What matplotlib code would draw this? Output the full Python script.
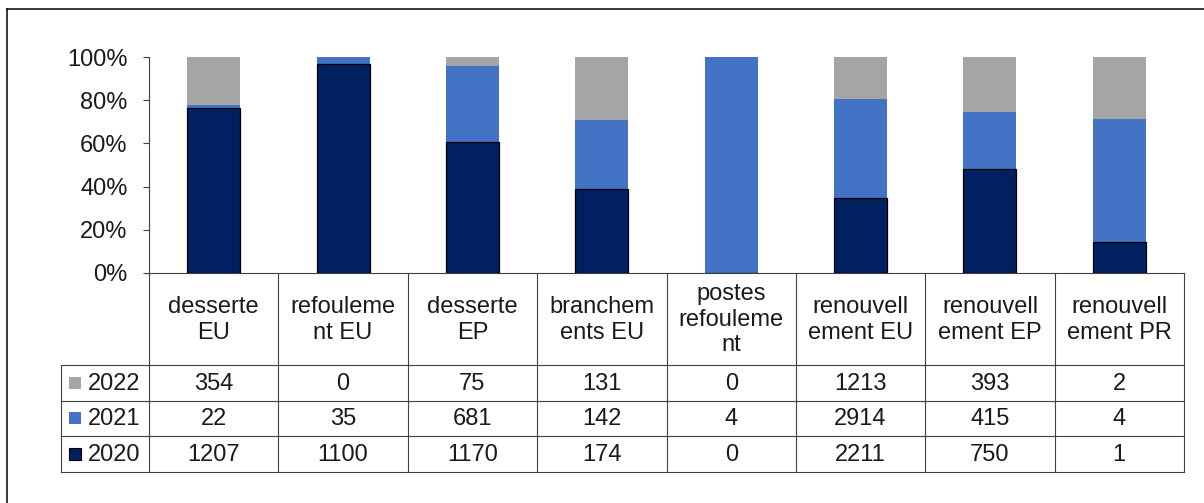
import matplotlib
matplotlib.use("Agg")
import matplotlib.pyplot as plt
from matplotlib.patches import Rectangle
import numpy as np

categories = ["desserte\nEU", "refouleme\nnt EU", "desserte\nEP", "branchem\nents EU",
              "postes\nrefouleme\nnt", "renouvell\nement EU", "renouvell\nement EP", "renouvell\nement PR"]
years = ["2022", "2021", "2020"]
v2022 = [354, 0, 75, 131, 0, 1213, 393, 2]
v2021 = [22, 35, 681, 142, 4, 2914, 415, 4]
v2020 = [1207, 1100, 1170, 174, 0, 2211, 750, 1]
yticks = [0, 0.2, 0.4, 0.6, 0.8, 1.0]
ytick_labels = ["0%", "20%", "40%", "60%", "80%", "100%"]

c2020, c2021, c2022 = "#002060", "#4472C4", "#A5A5A5"
colors = {"2022": c2022, "2021": c2021, "2020": c2020}
values = {"2022": v2022, "2021": v2021, "2020": v2020}

plt.rcParams["font.family"] = ["Liberation Sans", "DejaVu Sans"]
W, H = 1204, 503
fig = plt.figure(figsize=(W / 100, H / 100), dpi=100)
fig.patch.set_facecolor("white")

# layout (pixels)
x0, x1 = 149, 1184
ytop, ybot = 57.3, 272.7
leg_left = 61
row_lines = [365, 400.5, 436, 471.5]
fs = 17
lc = "#404040"

ax = fig.add_axes([x0 / W, (H - ybot) / H, (x1 - x0) / W, (ybot - ytop) / H])
a20 = np.array(v2020, float)
a21 = np.array(v2021, float)
a22 = np.array(v2022, float)
tot = a20 + a21 + a22
p20, p21, p22 = a20 / tot, a21 / tot, a22 / tot
x = np.arange(len(categories))
bw = 0.41
ax.bar(x, p20, bw, color=c2020, edgecolor="black", linewidth=0.9, zorder=3)
ax.bar(x, p21, bw, bottom=p20, color=c2021, linewidth=0, zorder=2)
ax.bar(x, p22, bw, bottom=p20 + p21, color=c2022, linewidth=0, zorder=2)
ax.set_xlim(-0.5, len(categories) - 0.5)
ax.set_ylim(0, 1)
ax.set_yticks(yticks)
ax.set_yticklabels(ytick_labels, fontsize=fs, color="#1a1a1a")
ax.tick_params(axis="y", direction="out", length=4.5, width=0.8, color=lc, pad=11)
ax.set_xticks([])
for s in ["top", "right"]:
    ax.spines[s].set_visible(False)
for s in ["left", "bottom"]:
    ax.spines[s].set_color(lc)
    ax.spines[s].set_linewidth(0.8)
ax.patch.set_alpha(0)

# overlay for table (pixel coords)
ov = fig.add_axes([0, 0, 1, 1], zorder=-1)
ov.set_xlim(0, W)
ov.set_ylim(H, 0)
ov.axis("off")
ov.patch.set_alpha(0)

cw = (x1 - x0) / len(categories)
for k in range(len(categories) + 1):
    xx = x0 + k * cw
    ov.plot([xx, xx], [ybot, row_lines[-1]], color=lc, lw=0.8)
ov.plot([leg_left, leg_left], [row_lines[0], row_lines[-1]], color=lc, lw=0.8)
for yy in row_lines:
    ov.plot([leg_left, x1], [yy, yy], color=lc, lw=0.8)

for k, cat in enumerate(categories):
    ov.text(x0 + (k + 0.5) * cw, (ybot + row_lines[0]) / 2 + 1, cat, ha="center", va="center",
            fontsize=fs, color="#1a1a1a", linespacing=1.2)

for r, yr in enumerate(years):
    yc = (row_lines[r] + row_lines[r + 1]) / 2
    ec = "black" if yr == "2020" else "none"
    ov.add_patch(Rectangle((69, yc - 6), 12, 12, facecolor=colors[yr], edgecolor=ec, lw=0.8))
    ov.text(87.5, yc + 1, yr, ha="left", va="center", fontsize=fs, color="#1a1a1a")
    for k, v in enumerate(values[yr]):
        ov.text(x0 + (k + 0.5) * cw, yc + 1, str(v), ha="center", va="center",
                fontsize=fs, color="#1a1a1a")

# outer frame (left and top edges only visible)
ov.plot([6.5, 6.5], [8.5, H], color="black", lw=1.1)
ov.plot([6.5, W], [8.5, 8.5], color="black", lw=1.1)

fig.savefig("out.png", dpi=100)
